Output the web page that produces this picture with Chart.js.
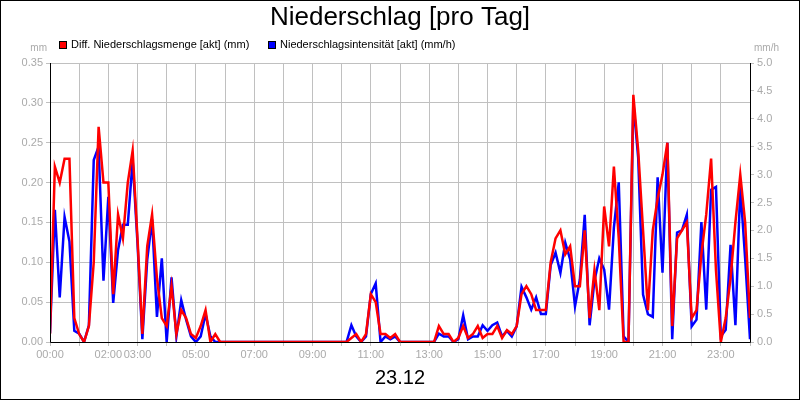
<!DOCTYPE html>
<html>
<head>
<meta charset="utf-8">
<script src="https://cdn.jsdelivr.net/npm/chart.js@4"></script>
<style>
  html, body { margin: 0; padding: 0; background: #fff; }
  #wrap { width: 800px; height: 400px; position: relative; box-sizing: border-box; }
</style>
</head>
<body>
<div id="wrap"><canvas id="c" width="800" height="400"></canvas></div>
<script>
// --- Daten (10-Minuten-Werte, 00:00 .. 24:00) ---
const dayLabel = '23.12';
const hourTicks = ['00:00', '02:00', '03:00', '05:00', '07:00', '09:00', '11:00', '13:00', '15:00', '17:00', '19:00', '21:00', '23:00'];

// Diff. Niederschlagsmenge [mm]
const mengeMm = [
  0.01, 0.22, 0.20, 0.23, 0.23, 0.03,   // 00
  0.01, 0.00, 0.02, 0.10, 0.27, 0.20,   // 01
  0.20, 0.06, 0.16, 0.13, 0.20, 0.24,   // 02
  0.13, 0.01, 0.12, 0.16, 0.08, 0.03,   // 03
  0.02, 0.07, 0.01, 0.04, 0.03, 0.01,   // 04
  0.005, 0.02, 0.04, 0.00, 0.01, 0.00,  // 05
  0, 0, 0, 0, 0, 0,                     // 06
  0, 0, 0, 0, 0, 0,                     // 07
  0, 0, 0, 0, 0, 0,                     // 08
  0, 0, 0, 0, 0, 0,                     // 09
  0, 0, 0.005, 0.01, 0.00, 0.01,        // 10
  0.06, 0.05, 0.01, 0.01, 0.005, 0.01,  // 11
  0, 0, 0, 0, 0, 0,                     // 12
  0, 0.00, 0.02, 0.01, 0.01, 0.00,      // 13
  0.005, 0.02, 0.005, 0.01, 0.02, 0.005, // 14
  0.01, 0.01, 0.02, 0.005, 0.015, 0.01, // 15
  0.02, 0.06, 0.07, 0.06, 0.04, 0.04,   // 16
  0.04, 0.10, 0.13, 0.14, 0.11, 0.12,   // 17
  0.07, 0.07, 0.14, 0.03, 0.09, 0.04,   // 18
  0.17, 0.12, 0.22, 0.13, 0.00, 0.00,   // 19
  0.31, 0.24, 0.14, 0.04, 0.14, 0.18,   // 20
  0.21, 0.25, 0.02, 0.13, 0.14, 0.15,   // 21
  0.03, 0.04, 0.11, 0.16, 0.23, 0.09,   // 22
  0.00, 0.03, 0.08, 0.15, 0.21, 0.15,   // 23
  0.03                                  // 24
];

// Niederschlagsintensität [mm/h]
const intensitaetMmh = [
  0.16, 2.37, 0.80, 2.24, 1.80, 0.20,   // 00
  0.15, 0.00, 0.30, 3.26, 3.50, 1.10,   // 01
  2.60, 0.70, 1.65, 2.10, 2.10, 3.26,   // 02
  1.77, 0.05, 1.47, 2.20, 0.45, 1.50,   // 03
  0.00, 1.16, 0.10, 0.75, 0.40, 0.10,   // 04
  0.00, 0.10, 0.50, 0.10, 0.00, 0.00,   // 05
  0, 0, 0, 0, 0, 0,                     // 06
  0, 0, 0, 0, 0, 0,                     // 07
  0, 0, 0, 0, 0, 0,                     // 08
  0, 0, 0, 0, 0, 0,                     // 09
  0, 0, 0.30, 0.10, 0.00, 0.10,         // 10
  0.86, 1.05, 0.00, 0.10, 0.05, 0.10,   // 11
  0, 0, 0, 0, 0, 0,                     // 12
  0, 0.00, 0.15, 0.10, 0.10, 0.00,      // 13
  0.05, 0.48, 0.05, 0.10, 0.10, 0.30,   // 14
  0.20, 0.30, 0.35, 0.10, 0.20, 0.10,   // 15
  0.28, 0.99, 0.80, 0.58, 0.80, 0.50,   // 16
  0.50, 1.38, 1.60, 1.24, 1.78, 1.48,   // 17
  0.64, 1.12, 2.28, 0.30, 1.10, 1.50,   // 18
  1.30, 0.58, 2.05, 2.86, 0.10, 0.00,   // 19
  4.30, 3.30, 0.85, 0.50, 0.45, 2.95,   // 20
  1.24, 3.57, 0.05, 1.96, 2.00, 2.28,   // 21
  0.28, 0.40, 2.15, 0.58, 2.73, 2.78,   // 22
  0.10, 0.22, 1.74, 0.30, 2.78, 1.50,   // 23
  0.05                                  // 24
];

const stepHours = 1 / 6;
const toPoints = arr => arr.map((v, i) => ({ x: i * stepHours, y: v }));

// --- Beschriftung (Titel, Legende, Einheiten, Datum) ---
const decor = {
  id: 'decor',
  afterDraw(chart) {
    const ctx = chart.ctx;
    const a = chart.chartArea;
    ctx.save();
    ctx.fillStyle = '#000';
    ctx.font = '26px "Liberation Sans", Arial, sans-serif';
    ctx.textAlign = 'center';
    ctx.textBaseline = 'middle';
    ctx.fillText('Niederschlag [pro Tag]', 400, 18);

    ctx.font = '11px "Liberation Sans", Arial, sans-serif';
    ctx.textAlign = 'left';
    const items = [
      { x: 59, color: '#ff0000', text: 'Diff. Niederschlagsmenge [akt] (mm)' },
      { x: 268, color: '#0000ff', text: 'Niederschlagsintensität [akt] (mm/h)' }
    ];
    items.forEach(it => {
      ctx.fillStyle = it.color;
      ctx.fillRect(it.x, 41, 8, 8);
      ctx.strokeStyle = '#000';
      ctx.lineWidth = 1;
      ctx.strokeRect(it.x + 0.5, 41.5, 7, 7);
      ctx.fillStyle = '#000';
      ctx.fillText(it.text, it.x + 12, 45);
    });

    ctx.fillStyle = '#aaaaaa';
    ctx.font = '10px "Liberation Sans", Arial, sans-serif';
    ctx.textAlign = 'right';
    ctx.fillText('mm', 47, 48);
    ctx.textAlign = 'left';
    ctx.fillText('mm/h', 754, 48);

    ctx.fillStyle = '#000';
    ctx.font = '20px "Liberation Sans", Arial, sans-serif';
    ctx.textAlign = 'center';
    ctx.fillText(dayLabel, 400, 378);

    // Achsenlinien
    ctx.strokeStyle = '#000';
    ctx.lineWidth = 1;
    ctx.beginPath();
    ctx.moveTo(a.left + 0.5, a.top);
    ctx.lineTo(a.left + 0.5, a.bottom + 0.5);
    ctx.lineTo(a.right + 0.5, a.bottom + 0.5);
    ctx.lineTo(a.right + 0.5, a.top);
    ctx.stroke();

    // Rahmen
    ctx.strokeRect(0.5, 0.5, 799, 399);
    ctx.restore();
  }
};

const tickFont = { family: '"Liberation Sans", Arial, sans-serif', size: 11 };

new Chart(document.getElementById('c'), {
  type: 'line',
  data: {
    datasets: [
      {
        label: 'Diff. Niederschlagsmenge [akt] (mm)',
        data: toPoints(mengeMm),
        yAxisID: 'yL',
        borderColor: '#ff0000',
        borderWidth: 2.5,
        pointRadius: 0,
        tension: 0
      },
      {
        label: 'Niederschlagsintensität [akt] (mm/h)',
        data: toPoints(intensitaetMmh),
        yAxisID: 'yR',
        borderColor: '#0000ff',
        borderWidth: 2.5,
        pointRadius: 0,
        tension: 0
      }
    ]
  },
  options: {
    responsive: false,
    animation: false,
    layout: { padding: { top: 63, left: 0, right: 0, bottom: 0 } },
    plugins: { legend: { display: false }, tooltip: { enabled: false } },
    scales: {
      x: {
        type: 'linear',
        min: 0,
        max: 24,
        afterFit(s) { s.height = 58; },
        grid: { color: '#c0c0c0', tickLength: 4 },
        border: { display: false },
        ticks: {
          stepSize: 1,
          autoSkip: false,
          maxRotation: 0,
          color: '#aaaaaa',
          font: tickFont,
          padding: 2,
          callback(v) {
            const lbl = String(v).padStart(2, '0') + ':00';
            return hourTicks.includes(lbl) ? lbl : '';
          }
        }
      },
      yL: {
        position: 'left',
        min: 0,
        max: 0.35,
        afterFit(s) { s.width = 50; },
        grid: { color: '#c0c0c0', tickLength: 4 },
        border: { display: false },
        ticks: {
          stepSize: 0.05,
          color: '#aaaaaa',
          font: tickFont,
          padding: 3,
          callback: v => v.toFixed(2)
        }
      },
      yR: {
        position: 'right',
        min: 0,
        max: 5,
        afterFit(s) { s.width = 50; },
        grid: { drawOnChartArea: false, color: '#c0c0c0', tickLength: 4 },
        border: { display: false },
        ticks: {
          stepSize: 0.5,
          color: '#aaaaaa',
          font: tickFont,
          padding: 3,
          callback: v => v.toFixed(1)
        }
      }
    }
  },
  plugins: [decor]
});
</script>
</body>
</html>
